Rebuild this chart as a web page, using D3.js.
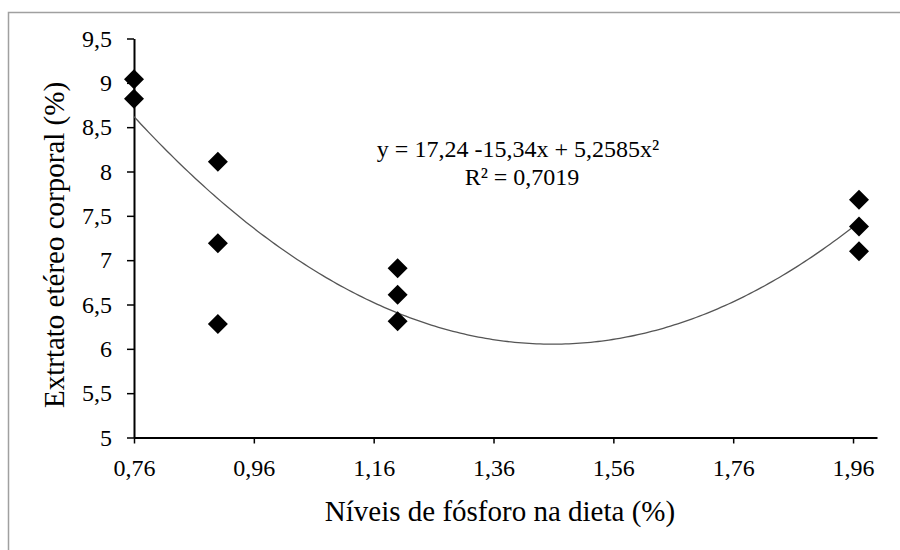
<!DOCTYPE html>
<html>
<head>
<meta charset="utf-8">
<script src="https://cdn.jsdelivr.net/npm/d3@7"></script>
<style>
  html, body { margin: 0; padding: 0; background: #fff; }
  svg { display: block; }
  svg text { font-family: "Liberation Serif", "Times New Roman", serif !important; fill: #000; }
</style>
</head>
<body>
<svg id="chart" width="900" height="550"></svg>
<script>
// ---- data ----
const phosphorusLevels = [0.76, 0.76, 0.90, 0.90, 0.90, 1.20, 1.20, 1.20, 1.97, 1.97, 1.97];
const etherExtract     = [9.04, 8.82, 8.11, 7.19, 6.28, 6.91, 6.61, 6.31, 7.68, 7.38, 7.10];
const xTicks = [0.76, 0.96, 1.16, 1.36, 1.56, 1.76, 1.96];
const yTicks = [5, 5.5, 6, 6.5, 7, 7.5, 8, 8.5, 9, 9.5];
const fitCoefficients = [17.24, -15.34, 5.2585]; // y = a + b x + c x^2 (as printed on the chart)
const fitRange = [0.76, 1.97];
const equationLines = ["y = 17,24 -15,34x + 5,2585x²", "R² = 0,7019"];
const xTitle = "Níveis de fósforo na dieta (%)";
const yTitle = "Extrtato etéreo corporal (%)";

// ---- drawing ----
const svg = d3.select("#chart");
const FONT = "'Liberation Serif', 'Times New Roman', serif";
const fmt = v => d3.format(",")(v).replace(".", ",");

// outer frame
svg.append("rect")
  .attr("x", 8.5).attr("y", 12.5).attr("width", 910).attr("height", 560)
  .attr("fill", "none").attr("stroke", "#a0a0a0").attr("stroke-width", 1.5);

const x = d3.scaleLinear().domain([0.76, 2.0]).range([134, 877]);
const y = d3.scaleLinear().domain([5, 9.5]).range([437.5, 38.5]);

// x axis
const xAxis = svg.append("g").attr("transform", `translate(0,${y(5)})`)
  .call(d3.axisBottom(x).tickValues(xTicks).tickFormat(fmt).tickSize(6).tickSizeOuter(0).tickPadding(15));
xAxis.attr("font-family", FONT);
xAxis.select(".domain").attr("stroke", "#000").attr("stroke-width", 2);
xAxis.selectAll(".tick line").attr("stroke", "#000").attr("stroke-width", 1.5);
xAxis.selectAll(".tick text").attr("font-size", 24).style("font-family", FONT);

// y axis
const yAxis = svg.append("g").attr("transform", `translate(${x(0.76)},0)`)
  .call(d3.axisLeft(y).tickValues(yTicks).tickFormat(fmt).tickSize(7).tickSizeOuter(0).tickPadding(15));
yAxis.attr("font-family", FONT);
yAxis.select(".domain").attr("stroke", "#000").attr("stroke-width", 2);
yAxis.selectAll(".tick line").attr("stroke", "#000").attr("stroke-width", 1.5);
yAxis.selectAll(".tick text").attr("font-size", 24).style("font-family", FONT);

// fitted curve
const [a, b, c] = fitCoefficients;
const curvePts = d3.range(0, 201).map(i => {
  const xv = fitRange[0] + (fitRange[1] - fitRange[0]) * i / 200;
  return [xv, a + b * xv + c * xv * xv];
});
svg.append("path")
  .datum(curvePts)
  .attr("fill", "none")
  .attr("stroke", "#555")
  .attr("stroke-width", 1.3)
  .attr("d", d3.line().x(d => x(d[0])).y(d => y(d[1])));

// points (diamonds)
const sym = d3.symbol().type(d3.symbolSquare).size(200);
svg.append("g").selectAll("path")
  .data(phosphorusLevels.map((p, i) => [p, etherExtract[i]]))
  .join("path")
  .attr("d", sym)
  .attr("transform", d => `translate(${x(d[0])},${y(d[1])}) rotate(45)`)
  .attr("fill", "#000");

// equation
svg.append("g").selectAll("text")
  .data(equationLines)
  .join("text")
  .attr("x", (d, i) => i === 0 ? 518 : 522)
  .attr("y", (d, i) => 157 + i * 28)
  .attr("text-anchor", "middle")
  .attr("font-size", 24)
  .style("font-family", FONT)
  .text(d => d);

// axis titles
svg.append("text")
  .attr("x", 500).attr("y", 521)
  .attr("text-anchor", "middle")
  .attr("font-size", 29)
  .style("font-family", FONT)
  .text(xTitle);

svg.append("text")
  .attr("transform", "translate(64,245) rotate(-90)")
  .attr("text-anchor", "middle")
  .attr("font-size", 29)
  .style("font-family", FONT)
  .text(yTitle);
</script>
</body>
</html>
